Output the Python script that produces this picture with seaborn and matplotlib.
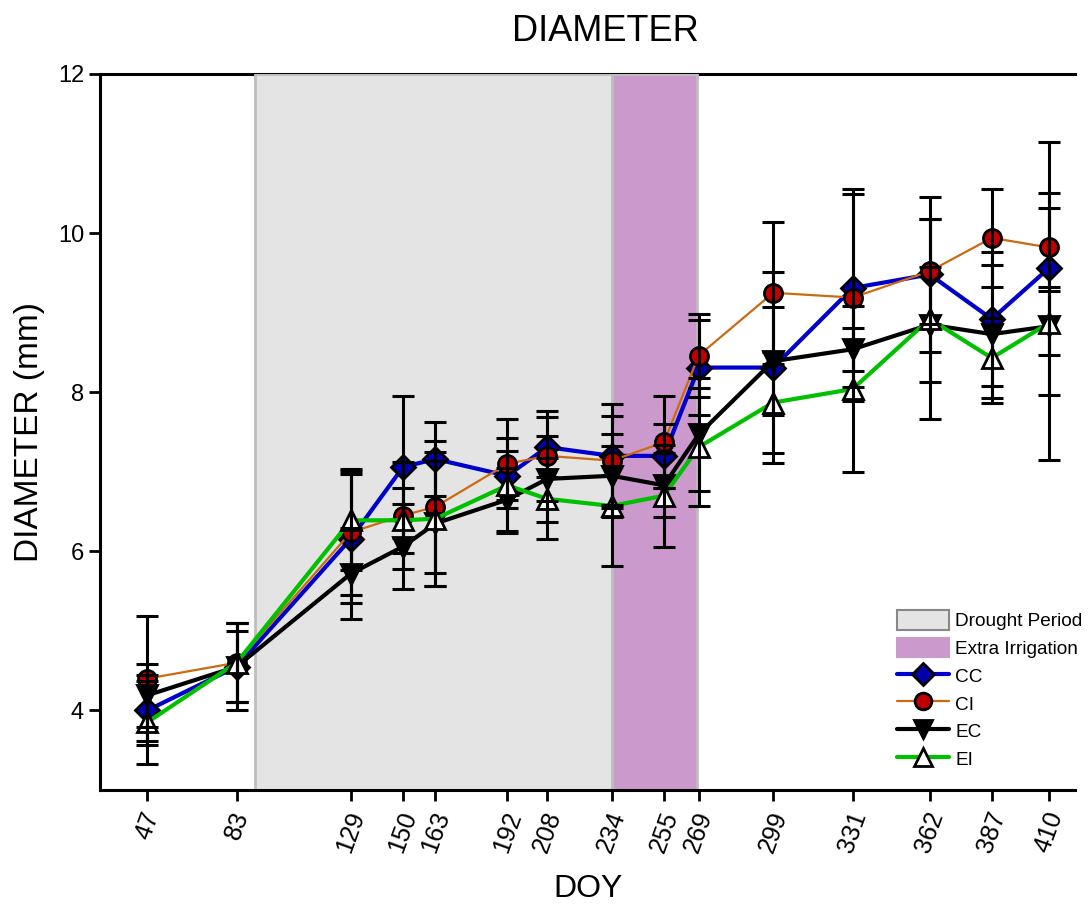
import matplotlib
matplotlib.use("Agg")
import matplotlib.pyplot as plt
import seaborn as sns
import numpy as np
import pandas as pd
from matplotlib.patches import Patch
from matplotlib.lines import Line2D

# ---- data ----
doy = [47, 83, 129, 150, 163, 192, 208, 234, 255, 269, 299, 331, 362, 387, 410]
cc = [4.00, 4.55, 6.16, 7.06, 7.16, 6.95, 7.31, 7.20, 7.20, 8.31, 8.31, 9.31, 9.48, 8.92, 9.56]
ci = [4.40, 4.60, 6.24, 6.45, 6.56, 7.10, 7.20, 7.14, 7.37, 8.46, 9.25, 9.19, 9.52, 9.94, 9.82]
ec = [4.19, 4.55, 5.72, 6.06, 6.35, 6.65, 6.91, 6.95, 6.83, 7.47, 8.39, 8.54, 8.85, 8.73, 8.83]
ei = [3.85, 4.60, 6.39, 6.39, 6.41, 6.83, 6.66, 6.57, 6.70, 7.31, 7.87, 8.04, 8.92, 8.43, 8.87]
cc_err = [0.44, 0.55, 0.81, 0.89, 0.47, 0.31, 0.38, 0.65, 0.40, 0.60, 1.20, 1.25, 0.98, 0.84, 1.59]
ci_err = [0.79, 0.50, 0.79, 0.67, 0.83, 0.56, 0.57, 0.56, 0.58, 0.52, 0.89, 1.30, 0.66, 0.62, 0.50]
ec_err = [0.40, 0.45, 0.57, 0.53, 0.78, 0.40, 0.54, 0.52, 0.40, 0.71, 0.68, 0.27, 0.72, 0.87, 1.68]
ei_err = [0.52, 0.50, 0.62, 0.41, 0.84, 0.60, 0.51, 0.75, 0.64, 0.74, 0.63, 1.04, 1.26, 0.50, 0.40]
series_names = ["CC", "CI", "EC", "EI"]
drought = (90.5, 234)
irrigation = (234, 268.5)
yticks = [4, 6, 8, 10, 12]

# ---- style ----
sns.set_style("ticks")
plt.rcParams['font.family'] = ['Liberation Sans', 'DejaVu Sans']
plt.rcParams['text.color'] = 'black'
plt.rcParams['axes.labelcolor'] = 'black'

fig = plt.figure(figsize=(10.91, 9.06), dpi=100)
ax = fig.add_axes([100/1091, 116/906, 975/1091, 716/906])

ax.axvspan(*drought, ymin=0, ymax=1, facecolor='#E4E4E4', edgecolor='#BEBEBE',
           linewidth=2, zorder=2.6)
ax.axvspan(*irrigation, ymin=0, ymax=1, facecolor='#CC99CC', edgecolor='#BEBEBE',
           linewidth=2, zorder=2.6)

styles = {
    "CC": dict(color='#0000CC', marker='D', mfc='#0000AA', lw=3.0, ms=12),
    "CI": dict(color='#CC6A10', marker='o', mfc='#C00000', lw=1.6, ms=13),
    "EC": dict(color='#000000', marker='v', mfc='#000000', lw=3.0, ms=14),
    "EI": dict(color='#00C000', marker='^', mfc='#FFFFFF', lw=3.0, ms=14),
}
vals = {"CC": cc, "CI": ci, "EC": ec, "EI": ei}
errs = {"CC": cc_err, "CI": ci_err, "EC": ec_err, "EI": ei_err}

for i, name in enumerate(series_names):
    s = styles[name]
    df = pd.DataFrame({"DOY": doy, "val": vals[name]})
    sns.lineplot(data=df, x="DOY", y="val", ax=ax, color=s['color'], linewidth=s['lw'],
                 marker=s['marker'], markersize=s['ms'], markerfacecolor=s['mfc'],
                 markeredgecolor='black', markeredgewidth=2, zorder=4 + i * 0.1)

for i, name in enumerate(series_names):
    ax.errorbar(doy, vals[name], yerr=errs[name], fmt='none', ecolor='black',
                elinewidth=2.2, capsize=8, capthick=2.2, zorder=5)

ax.set_xlim(28, 420.5)
ax.set_ylim(3, 12)
ax.set_xticks(doy)
ax.set_xticklabels([str(d) for d in doy], rotation=70, fontsize=18, ha='center')
ax.set_yticks(yticks)
ax.set_yticklabels([str(t) for t in yticks], fontsize=17)
ax.tick_params(axis='both', direction='out', length=8, width=2, colors='black')
ax.tick_params(axis='x', pad=5)

for side in ['left', 'bottom', 'top']:
    ax.spines[side].set_linewidth(2.2)
    ax.spines[side].set_color('black')
ax.spines['left'].set_zorder(3)
ax.spines['bottom'].set_zorder(3)
ax.spines['top'].set_zorder(2)
ax.spines['right'].set_visible(False)

ax.set_xlabel("DOY", fontsize=23, labelpad=13, color='black')
ax.set_ylabel("DIAMETER (mm)", fontsize=24, labelpad=9, color='black')
ax.set_title("DIAMETER", fontsize=26, pad=24, color='black', x=0.518)

handles = [
    Patch(facecolor='#E4E4E4', edgecolor='#888888', linewidth=1.5),
    Patch(facecolor='#CC99CC', edgecolor='#CC99CC', linewidth=1.5),
]
for name in series_names:
    s = styles[name]
    handles.append(Line2D([], [], color=s['color'], lw=s['lw'], marker=s['marker'],
                          markersize=s['ms'] - 1, markerfacecolor=s['mfc'],
                          markeredgecolor='black', markeredgewidth=2))
labels = ["Drought Period", "Extra Irrigation"] + series_names
leg = ax.legend(handles, labels, loc='upper left', bbox_to_anchor=(0.81, 0.262),
                frameon=False, fontsize=13.7, handlelength=2.7, handleheight=1.2,
                labelspacing=0.4, handletextpad=0.33, borderaxespad=0)
leg.set_zorder(10)

fig.savefig("out.png", dpi=100)
